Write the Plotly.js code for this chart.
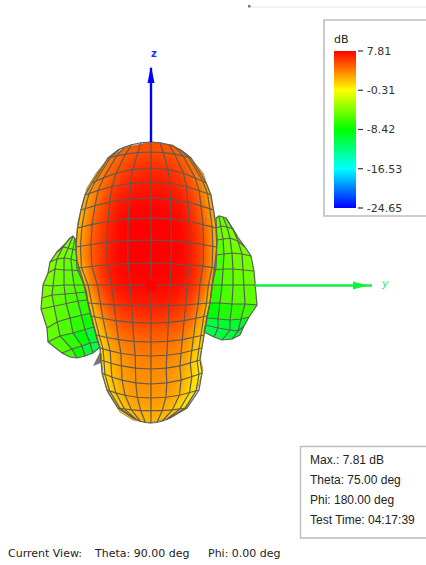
<!DOCTYPE html>
<html><head><meta charset="utf-8">
<script src="https://cdn.plot.ly/plotly-3.0.1.min.js"></script>
<style>html,body{margin:0;padding:0;background:#fff;overflow:hidden}#c{width:426px;height:565px}</style>
</head><body><div id="c"></div>
<script>
// Colour scale
const colorTicks = [7.81, -0.31, -8.42, -16.53, -24.65];
const colorTickLabels = ['7.81', '-0.31', '-8.42', '-16.53', '-24.65'];
const stops = [[0,[0,0,255]],[0.25,[0,255,255]],[0.5,[0,255,0]],[0.75,[255,255,0]],[1,[255,0,0]]];
const dbMin = -24.65, dbMax = 7.81;

// Main lobe gain (dB), on a picture-space grid
const gridX = [70,80,90,100,110,120,130,140,150,160,170,180,190,200,210,220,230];
const gridY = [135,150,165,180,195,210,225,240,255,270,285,300,315,330,345,360,375,390,405,420,435];
const gainDb = [
[2.4,2.4,2.4,2.4,3.4,4.4,5,5.3,5.4,5.3,5,4.3,3.3,2.4,2.4,2.4,2.4],
[2.4,2.4,2.4,2.4,3.4,4.4,5,5.3,5.4,5.3,5,4.3,3.3,2.4,2.4,2.4,2.4],
[2,2,2,3.3,4.4,5.3,5.9,6.2,6.3,6.2,6,5.4,4.4,2.9,2,2,2],
[1.2,1.2,2.6,3.9,5.1,6,6.5,6.8,6.9,6.85,6.6,6,5.1,3.7,1.5,1,1],
[1.2,1.4,3.2,4.6,5.9,6.8,7.2,7.35,7.4,7.35,7.2,6.8,5.9,4.4,2.2,0.8,0.8],
[0.6,1.8,3.7,5.2,6.4,7.3,7.6,7.7,7.75,7.7,7.6,7.3,6.4,4.9,2.8,0.5,0.5],
[0.5,2.2,4.3,5.7,6.8,7.55,7.78,7.8,7.81,7.8,7.78,7.55,6.8,5.5,3.4,0.5,0.5],
[0.5,2.6,4.6,5.9,7,7.65,7.8,7.81,7.81,7.81,7.8,7.65,7,5.8,3.6,0.7,0.5],
[0.5,2.8,4.7,5.9,7,7.65,7.8,7.81,7.81,7.81,7.8,7.65,7,5.8,3.6,0.7,0.5],
[0.3,1.5,4.3,5.9,7,7.55,7.72,7.78,7.8,7.78,7.72,7.55,6.9,5.6,3.3,0.5,0.5],
[0.3,0.5,3.6,5.5,6.7,7.3,7.5,7.6,7.6,7.6,7.5,7.2,6.6,5.2,2.6,0.3,0.3],
[0.3,0.3,2.1,4.4,5.8,6.6,6.9,7.05,7.1,7.05,6.9,6.5,5.7,4,1.4,0.3,0.3],
[0.3,0.3,0.9,3.1,4.7,5.6,6,6.2,6.3,6.2,6,5.6,4.7,2.9,0.5,0.3,0.3],
[0.3,0.3,0.4,1.9,3.5,4.5,4.9,5.1,5.2,5.1,4.9,4.5,3.5,1.8,0.3,0.3,0.3],
[0.3,0.3,0.3,0.9,2.6,3.6,4,4.2,4.3,4.2,4,3.6,2.5,0.8,0.3,0.3,0.3],
[0.2,0.2,0.2,0.3,1.9,2.9,3.4,3.6,3.7,3.6,3.4,2.9,1.8,0.2,0.2,0.2,0.2],
[-0.1,-0.1,-0.1,-0.1,1.6,2.6,3.1,3.3,3.3,3.3,3.1,2.6,1.4,-0.1,-0.1,-0.1,-0.1],
[-0.1,-0.1,-0.1,-0.1,1,2.3,2.9,3.1,3.1,3.1,2.9,2.1,0.8,-0.1,-0.1,-0.1,-0.1],
[-0.1,-0.1,-0.1,-0.1,0,1.3,2.3,2.6,2.7,2.6,2.1,1,-0.1,-0.1,-0.1,-0.1,-0.1],
[-0.1,-0.1,-0.1,-0.1,-0.1,0.5,1.3,1.9,2.1,1.9,1.3,0.4,-0.1,-0.1,-0.1,-0.1,-0.1],
[-0.1,-0.1,-0.1,-0.1,-0.1,0.5,1.3,1.9,2.1,1.9,1.3,0.4,-0.1,-0.1,-0.1,-0.1,-0.1]
];

// Main lobe outline
const outlineLeftX = [151,127,110,97,87,82,78,76,77,80,85,89,95,100,102,103,108,120,133,150];
const outlineLeftY = [142,147,157,172,188,205,222,240,263,270,290,310,330,348,363,377,393,412,420,423];
const outlineRightX = [151,173,190,203,210,215,217,216,214,212,207,203,200,203,198,187,170,150];
const outlineRightY = [142,145,157,173,193,217,240,263,270,290,320,343,357,370,387,407,418,423];

// Main lobe mesh: one entry per parallel
const rowCentreY = [142,152,168,182,198,218,240,263,285,306,323,342,356,369,384,398,411,423];
const rowEdgeY   = [150,158,183,195,210,228,247,268,285,303,316,335,348,360,373,390,408,418];
const rowLeft    = [118,108,92,85,81,77.5,76,77,84,88,91,96,100,101,102,107,118,133];
const rowRight   = [181,191,206,211,213.5,216,216.7,216,212,210,207,204,202,200,202,199,187,170];
const meridianFrac = [-1,-0.94,-0.8,-0.59,-0.31,0,0.31,0.59,0.8,0.94,1];
const centreX = 151;

// Side lobes: mesh nodes and facet gains
const leftLobeX = [
[66,70,73,75,76],[57,63,68,73,76],[50,57,64,71,77],[48,55,64,72,80],[43,53,64,74,84],
[42,52,65,76,86.5],[41,54,66,78,87.5],[47,57,70,82,91],[48,60,73,85,94],[62,72,82,90,98],[70,77,85,93,100]];
const leftLobeY = [
[243,238,236,238,240],[252,247,248,249,250],[262,259,258,259,261],[273,269,270,270,271],[285,286,285,285,285],
[298,295,294,293,292],[309,306,303,301,300],[328,322,318,315,313],[342,336,333,330,327],[353,349,346,343,342],[357,358,356,353,347]];
const leftLobeDb = [
[-4.4,-4.6,-5,-5],[-4.4,-4.6,-5,-5.3],[-4.4,-4.8,-5.2,-5.5],[-4.5,-5,-5.4,-5.8],[-4.7,-5.2,-5.6,-6],
[-4.8,-5.4,-6,-6.5],[-4.9,-5.6,-6.3,-7],[-5.3,-6,-7,-8],[-5.8,-7,-8.5,-10],[-6.5,-8,-10,-11]];
const rightLobeX = [
[216,219,223,226,229],[216.5,221,227,233,237],[217,223,230,238,245],[216,224,232,242,251],[214,223,233,243,254],
[212,222,233,244,255],[210,220,232,245,257],[207,218,230,241,249],[205.5,218,230,238,244],[204,214,222,232,240]];
const rightLobeY = [
[218,216,217,218,223],[228,226,227,229,236],[240,239,238,241,247],[255,254,253,254,256],[270,269,269,270,271],
[285,285,285,285,285],[303,303,304,304,305],[318,319,320,319,317],[325,328,330,331,326],[332,337,340,339,335]];
const rightLobeDb = [
[-5,-5,-5,-5],[-5,-4.8,-4.6,-5],[-5.5,-5,-4.8,-4.6],[-6,-5.4,-5,-4.8],[-6.5,-5.6,-5.2,-5],
[-7,-6,-5.6,-5.4],[-8.5,-7.5,-7,-6.5],[-10.5,-10,-10,-9.5],[-11,-10.5,-10.5,-10]];
const spikeX = [93,100,102,101];
const spikeY = [366,352,354,363];

// Axes
const zAxisX = [151,151], zAxisY = [142,68];
const zHeadX = [151,147.5,154.5], zHeadY = [66,83,83];
const yAxisX = [255,372], yAxisY = [285.5,285.5];
const yHeadX = [353,353,368], yHeadY = [281.5,289.5,285.5];

// Colour bar tick marks sit a little off the bar
const barTop = 51, barBottom = 208, tickFrom = 358, tickTo = 363;

// Text
const infoLines = ['Max.: 7.81 dB','Theta: 75.00 deg','Phi: 180.00 deg','Test Time: 04:17:39'];
const infoLineY = [460,480,500,520];
const viewTexts = ['Current View:','Theta: 90.00 deg','Phi: 0.00 deg'];
const viewTextX = [6,92,206];

function dbColor(v){
  const t = Math.max(0,Math.min(1,(v-dbMin)/(dbMax-dbMin)));
  for(let i=1;i<stops.length;i++){
    if(t<=stops[i][0]){
      const a=stops[i-1],b=stops[i],f=(t-a[0])/(b[0]-a[0]);
      return 'rgb('+a[1].map((c,k)=>Math.round(c+(b[1][k]-c)*f)).join(',')+')';
    }
  }
  return 'rgb(255,0,0)';
}

const traces = [];
traces.push({type:'heatmap',x:gridX,y:gridY,z:gainDb,zmin:dbMin,zmax:dbMax,zsmooth:'best',hoverinfo:'skip',
  colorscale:stops.map(s=>[s[0],'rgb('+s[1].join(',')+')']),
  colorbar:{x:333.5/426,xanchor:'left',xpad:0,y:(565-129.5)/565,yanchor:'middle',ypad:0,
    thicknessmode:'pixels',thickness:21.5,lenmode:'pixels',len:157,outlinewidth:0,
    tickmode:'array',tickvals:colorTicks,ticktext:colorTickLabels,ticks:'outside',ticklen:9,tickwidth:1,tickcolor:'rgba(0,0,0,0)',
    tickfont:{family:'DejaVu Sans',size:11,color:'#333'},
    title:{text:''}}});

// white background outside the main lobe
const boxL=60,boxR=240,boxT=125,boxB=445;
traces.push({type:'scatter',mode:'none',fill:'toself',fillcolor:'#fff',hoverinfo:'skip',
  x:[centreX,...outlineLeftX,150,boxL,boxL],y:[boxT,...outlineLeftY,boxB,boxB,boxT]});
traces.push({type:'scatter',mode:'none',fill:'toself',fillcolor:'#fff',hoverinfo:'skip',
  x:[centreX,...outlineRightX,150,boxR,boxR],y:[boxT,...outlineRightY,boxB,boxB,boxT]});

traces.push({type:'scatter',mode:'none',fill:'toself',fillcolor:'#777',hoverinfo:'skip',x:spikeX,y:spikeY});

function lobe(X,Y,D){
  const lx=[],ly=[];
  D.forEach((row,i)=>row.forEach((v,j)=>{
    traces.push({type:'scatter',mode:'none',fill:'toself',fillcolor:dbColor(v),hoverinfo:'skip',
      x:[X[i][j],X[i][j+1],X[i+1][j+1],X[i+1][j]],y:[Y[i][j],Y[i][j+1],Y[i+1][j+1],Y[i+1][j]]});
  }));
  X.forEach((r,i)=>{r.forEach((v,j)=>{lx.push(v);ly.push(Y[i][j]);});lx.push(null);ly.push(null);});
  X[0].forEach((_,j)=>{X.forEach((r,i)=>{lx.push(r[j]);ly.push(Y[i][j]);});lx.push(null);ly.push(null);});
  traces.push({type:'scatter',mode:'lines',x:lx,y:ly,line:{color:'#586050',width:1.2},hoverinfo:'skip'});
}
lobe(leftLobeX,leftLobeY,leftLobeDb);
lobe(rightLobeX,rightLobeY,rightLobeDb);

// main lobe mesh
const nx=r=>meridianFrac.map(f=>centreX+f*(f<0?centreX-rowLeft[r]:rowRight[r]-centreX));
const ny=r=>meridianFrac.map(f=>rowCentreY[r]+(rowEdgeY[r]-rowCentreY[r])*f*f);
const mx=[],my=[];
rowCentreY.forEach((_,r)=>{mx.push(...nx(r),null);my.push(...ny(r),null);});
meridianFrac.forEach((_,j)=>{rowCentreY.forEach((_,r)=>{mx.push(nx(r)[j]);my.push(ny(r)[j]);});mx.push(null);my.push(null);});
traces.push({type:'scatter',mode:'lines',x:mx,y:my,line:{color:'#605a50',width:1.2},hoverinfo:'skip'});
traces.push({type:'scatter',mode:'lines',x:outlineLeftX,y:outlineLeftY,line:{color:'rgba(110,100,80,0.6)',width:1},hoverinfo:'skip'});
traces.push({type:'scatter',mode:'lines',x:outlineRightX,y:outlineRightY,line:{color:'rgba(110,100,80,0.6)',width:1},hoverinfo:'skip'});

// origin and axes
traces.push({type:'scatter',mode:'markers',x:[centreX],y:[285],marker:{color:'#ff0000',size:11},hoverinfo:'skip'});
traces.push({type:'scatter',mode:'lines',x:zAxisX,y:zAxisY,line:{color:'#0000ff',width:2.4},hoverinfo:'skip'});
traces.push({type:'scatter',mode:'none',fill:'toself',fillcolor:'#0000ff',x:zHeadX,y:zHeadY,hoverinfo:'skip'});
traces.push({type:'scatter',mode:'lines',x:yAxisX,y:yAxisY,line:{color:'#10f040',width:2.4},hoverinfo:'skip'});
traces.push({type:'scatter',mode:'none',fill:'toself',fillcolor:'#10f040',x:yHeadX,y:yHeadY,hoverinfo:'skip'});

// colour bar tick marks
const tx=[],ty=[];
colorTicks.forEach(v=>{const p=barBottom+(barTop-barBottom)*(v-dbMin)/(dbMax-dbMin);tx.push(tickFrom,tickTo,null);ty.push(p,p,null);});
traces.push({type:'scatter',mode:'lines',x:tx,y:ty,line:{color:'#333',width:1.2},hoverinfo:'skip'});

const txt=(t,x,y,size,color,extra)=>Object.assign({text:t,x:x,y:y,xref:'x',yref:'y',xanchor:'left',yanchor:'middle',showarrow:false,
  font:{family:'DejaVu Sans',size:size,color:color}},extra||{});
const annotations=[
  txt('<b>z</b>',149,53,10,'#2030ff'),
  txt('<i>y</i>',378.5,283,11,'#30f050'),
  txt('dB',332,39,11,'#222'),
  ...infoLines.map((t,i)=>txt(t,308,infoLineY[i],12,'#222',{font:{family:'Liberation Sans',size:12,color:'#222'}})),
  ...viewTexts.map((t,i)=>txt(t,viewTextX[i],553,11,'#222'))
];
const shapes=[
  {type:'rect',xref:'x',yref:'y',x0:324,x1:427,y0:20,y1:216,line:{color:'#bdbdbd',width:1.6},fillcolor:'rgba(0,0,0,0)',layer:'below'},
  {type:'rect',xref:'x',yref:'y',x0:300.5,x1:427,y0:446.5,y1:538,line:{color:'#bdbdbd',width:1.4},fillcolor:'rgba(0,0,0,0)',layer:'below'},
  {type:'line',xref:'x',yref:'y',x0:250,x1:426,y0:7,y1:7,line:{color:'#e8e8e8',width:1},layer:'below'},
  {type:'rect',xref:'x',yref:'y',x0:248,x1:250.5,y0:5,y1:7.5,line:{width:0},fillcolor:'#777',layer:'below'}
];
const hidden={visible:false,fixedrange:true,autorange:false};
Plotly.newPlot('c',traces,{
  width:426,height:565,margin:{l:0,r:0,t:0,b:0},paper_bgcolor:'#fff',plot_bgcolor:'#fff',showlegend:false,
  xaxis:Object.assign({range:[0,426]},hidden),
  yaxis:Object.assign({range:[565,0]},hidden),
  annotations,shapes
},{displayModeBar:false,staticPlot:true});
</script></body></html>
